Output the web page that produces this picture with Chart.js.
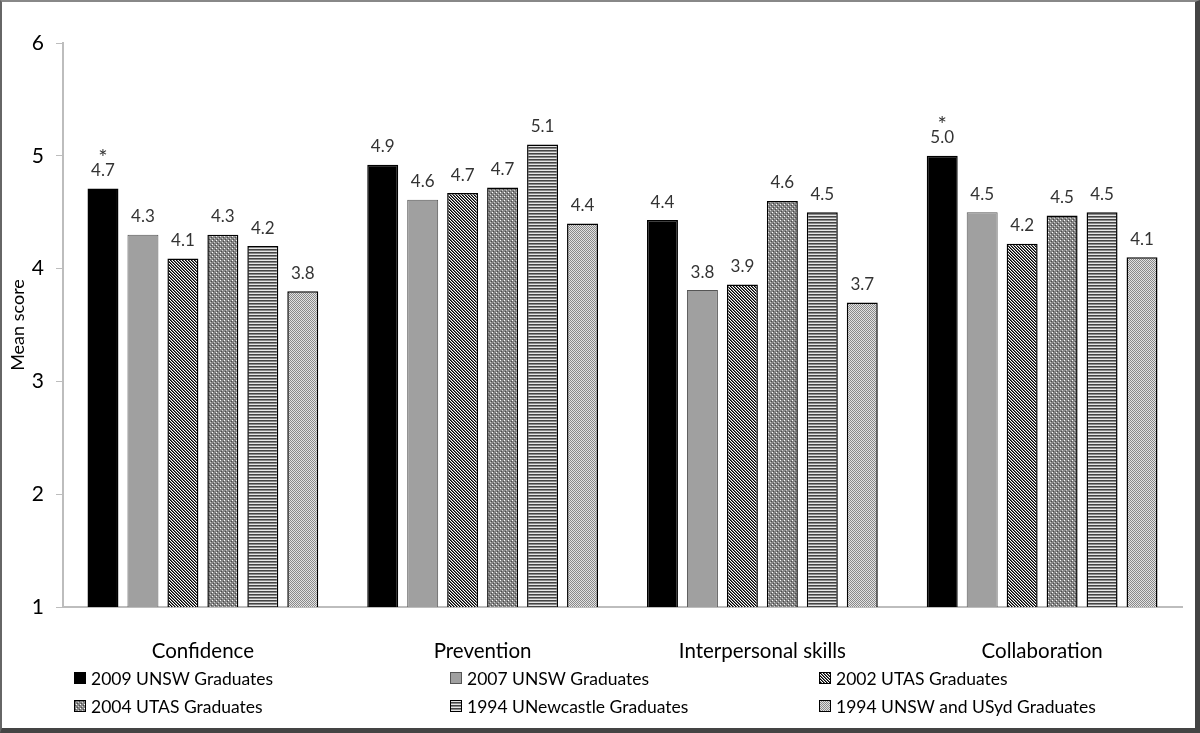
<!DOCTYPE html>
<html>
<head>
<meta charset="utf-8">
<script src="https://cdn.jsdelivr.net/npm/chart.js@4.4.1/dist/chart.umd.min.js"></script>
<style>
  html, body { margin: 0; padding: 0; background: #fff; }
  #frame {
    position: absolute; left: 0; top: 0;
    width: 1193px; height: 726px;
    border-left: 2px solid #666; border-top: 2px solid #888;
    border-right: 5px solid #444; border-bottom: 5px solid #444;
    box-sizing: content-box;
  }
  #wrap { position: absolute; left: 0; top: 0; width: 1200px; height: 733px; }
</style>
</head>
<body>
<div id="wrap"><canvas id="chart" width="1200" height="733"></canvas></div>
<div id="frame"></div>
<script>
// categories and series
const categories = ["Confidence", "Prevention", "Interpersonal skills", "Collaboration"];
const seriesNames = ["2009 UNSW Graduates", "2007 UNSW Graduates", "2002 UTAS Graduates",
                     "2004 UTAS Graduates", "1994 UNewcastle Graduates", "1994 UNSW and USyd Graduates"];
const unsw2009 = [4.71, 4.92, 4.43, 5.00];
const unsw2007 = [4.30, 4.61, 3.81, 4.50];
const utas2002 = [4.09, 4.67, 3.86, 4.22];
const utas2004 = [4.30, 4.72, 4.60, 4.47];
const newcastle1994 = [4.20, 5.10, 4.50, 4.50];
const unswUsyd1994 = [3.80, 4.40, 3.70, 4.10];
// significance markers (only on 2009 series)
const starred2009 = [true, false, false, true];
const yTicks = [1, 2, 3, 4, 5, 6];

// fill patterns
function makePattern(size, draw) {
  const c = document.createElement('canvas');
  c.width = size; c.height = size;
  const g = c.getContext('2d');
  draw(g);
  return g.createPattern(c, 'repeat');
}
const diagPattern = makePattern(3, g => {
  g.fillStyle = '#fff'; g.fillRect(0, 0, 3, 3);
  for (let i = 0; i < 3; i++) {
    g.fillStyle = '#000'; g.fillRect(i, i, 1, 1);
    g.fillStyle = '#666'; g.fillRect((i + 1) % 3, i, 1, 1);
  }
});
const dotPattern = makePattern(4, g => {
  g.fillStyle = '#858585'; g.fillRect(0, 0, 4, 4);
  g.fillStyle = '#fff'; g.fillRect(0, 0, 1, 1);
  g.fillStyle = '#cfcfcf'; g.fillRect(2, 2, 1, 1);
  g.fillStyle = '#4a4a4a'; g.fillRect(1, 3, 1, 1); g.fillRect(3, 1, 1, 1);
});
const stripePattern = makePattern(3, g => {
  g.fillStyle = '#444'; g.fillRect(0, 0, 3, 1);
  g.fillStyle = '#888'; g.fillRect(0, 1, 3, 1);
  g.fillStyle = '#e6e6e6'; g.fillRect(0, 2, 3, 1);
});
const checkPattern = makePattern(2, g => {
  g.fillStyle = '#e2e2e2'; g.fillRect(0, 0, 2, 2);
  g.fillStyle = '#8a8a8a'; g.fillRect(0, 0, 1, 1); g.fillRect(1, 1, 1, 1);
});

const fills = ['#000', '#a0a0a0', diagPattern, dotPattern, stripePattern, checkPattern];
const borders = ['#000', '#555', '#000', '#000', '#000', '#000'];
const seriesData = [unsw2009, unsw2007, utas2002, utas2004, newcastle1994, unswUsyd1994];

const FONT = 'Lato, "Open Sans", sans-serif';

const datasets = seriesData.map((d, i) => ({
  label: seriesNames[i],
  data: d,
  backgroundColor: fills[i],
  borderColor: borders[i],
  borderWidth: i === 1 ? 1 : 1.5,
  categoryPercentage: 0.857,
  barPercentage: 0.775
}));

// value labels above the bars
const valueLabels = {
  id: 'valueLabels',
  afterDatasetsDraw(chart) {
    const ctx = chart.ctx;
    ctx.save();
    ctx.fillStyle = '#333';
    ctx.textAlign = 'center';
    ctx.textBaseline = 'middle';
    chart.data.datasets.forEach((ds, di) => {
      chart.getDatasetMeta(di).data.forEach((bar, j) => {
        ctx.font = '17px ' + FONT;
        ctx.fillText(ds.data[j].toFixed(1), bar.x, bar.y - 18);
        if (di === 0 && starred2009[j]) {
          ctx.font = '22px ' + FONT;
          ctx.fillText('*', bar.x, bar.y - 31);
        }
      });
    });
    ctx.restore();
  }
};

// legend laid out in 3 columns, 2 rows
const gridLegend = {
  id: 'gridLegend',
  afterDraw(chart) {
    const ctx = chart.ctx;
    const colX = [74, 450, 819];
    const rowY = [678, 706];
    ctx.save();
    ctx.font = '17.5px ' + FONT;
    ctx.textBaseline = 'middle';
    chart.data.datasets.forEach((ds, i) => {
      const x = colX[i % 3], y = rowY[Math.floor(i / 3)];
      ctx.fillStyle = ds.backgroundColor;
      ctx.fillRect(x, y - 6, 12, 12);
      ctx.strokeStyle = ds.borderColor;
      ctx.lineWidth = 1;
      ctx.strokeRect(x + 0.5, y - 5.5, 11, 11);
      ctx.fillStyle = '#000';
      ctx.fillText(ds.label, x + 17, y + 1);
    });
    ctx.restore();
  }
};

new Chart(document.getElementById('chart'), {
  type: 'bar',
  data: { labels: categories, datasets: datasets },
  options: {
    responsive: false,
    animation: false,
    layout: { padding: { top: 43, right: 18, left: 0, bottom: 0 } },
    plugins: { legend: { display: false }, tooltip: { enabled: false } },
    scales: {
      x: {
        grid: { display: false },
        border: { display: true, color: '#bdbdbd', width: 2 },
        ticks: { color: '#000', font: { family: FONT, size: 20.5 }, padding: 24 },
        afterFit(s) { s.height = 126; }
      },
      y: {
        min: 1, max: 6,
        afterBuildTicks(s) { s.ticks = yTicks.map(v => ({ value: v })); },
        grid: { drawOnChartArea: false, drawTicks: true, tickLength: 7, color: '#bdbdbd' },
        border: { display: true, color: '#bdbdbd', width: 2 },
        ticks: { color: '#000', font: { family: FONT, size: 21 }, padding: 12 },
        title: { display: true, text: 'Mean score', color: '#000', font: { family: FONT, size: 18 }, padding: { top: 7, bottom: 0 } },
        afterFit(s) { s.width = 63; }
      }
    }
  },
  plugins: [valueLabels, gridLegend]
});
</script>
</body>
</html>
